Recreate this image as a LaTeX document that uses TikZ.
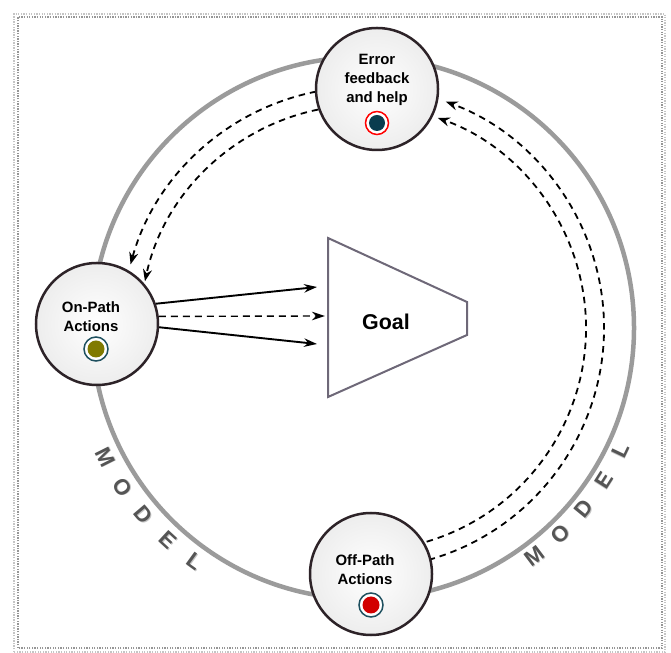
\documentclass[tikz,border=0pt]{standalone}
\usepackage{fontspec}
\setmainfont{Liberation Sans}
\usetikzlibrary{arrows.meta}
\definecolor{ringgray}{RGB}{155,155,155}
\definecolor{nodeborder}{RGB}{45,35,40}
\definecolor{tealdk}{RGB}{10,60,78}
\definecolor{tealring}{RGB}{30,80,95}
\definecolor{olivedot}{RGB}{128,122,0}
\definecolor{reddot}{RGB}{210,0,0}
\definecolor{goalline}{RGB}{110,104,120}
\definecolor{modelgray}{RGB}{85,85,85}
\definecolor{framegray}{RGB}{150,150,150}
\begin{document}
\begin{tikzpicture}[x=1bp,y=1bp,
  bubble/.style={circle, draw=nodeborder, line width=2.5bp, minimum size=122bp, inner sep=0pt,
                 shade, inner color=white, outer color=gray!14},
  lbl/.style={align=center, font=\fontsize{15}{19}\selectfont\bfseries, inner sep=0pt},
  dotring/.style={circle, fill=white, draw=#1, line width=1.5bp, minimum size=23bp, inner sep=0pt},
  dotfill/.style={circle, fill=#1, minimum size=16bp, inner sep=0pt},
  model/.style={font=\fontsize{22}{22}\selectfont\bfseries, text=modelgray, inner sep=0pt},
  modelshadow/.style={font=\fontsize{22}{22}\selectfont\bfseries, text=modelgray!35, inner sep=0pt},
  dasharrow/.style={line width=1.8bp, dash pattern=on 6.5bp off 5bp, -{Stealth[length=12bp,width=9bp]}},
  solidarrow/.style={line width=1.9bp, -{Stealth[length=13bp,width=8.5bp]}},
  dasharrowB/.style={line width=1.4bp, dash pattern=on 7bp off 5bp, -{Stealth[length=13bp,width=8.5bp]}}
]
\useasboundingbox (0,0) rectangle (671,653);
% frame
\draw[framegray!55, line width=1.3bp, dash pattern=on 1.3bp off 1.3bp] (14,1) rectangle (665,639);
\draw[framegray, line width=1.3bp, dash pattern=on 1.3bp off 1.3bp] (18,5) rectangle (662,636);

% big model circle
\coordinate (C) at (363,325);
\draw[ringgray, line width=4.5bp] (C) circle[radius=271bp];

% MODEL labels
\foreach \a [count=\i] in {206.6,213.5,220.4,227.3,234.2}{
  \node[modelshadow, rotate=\a+90] (mlefts\i) at ([shift={(\a:288bp)},xshift=0.8bp,yshift=-0.8bp]C)
    {\ifcase\i\or M\or O\or D\or E\or L\fi};
  \node[model, rotate=\a+90] (mleft\i) at ([shift={(\a:288bp)}]C)
    {\ifcase\i\or M\or O\or D\or E\or L\fi};
}
\foreach \a [count=\i] in {-53.1,-46.2,-39.3,-32.4,-25.5}{
  \node[modelshadow, rotate=\a+90] (mrights\i) at ([shift={(\a:285bp)},xshift=0.8bp,yshift=-0.8bp]C)
    {\ifcase\i\or M\or O\or D\or E\or L\fi};
  \node[model, rotate=\a+90] (mright\i) at ([shift={(\a:285bp)}]C)
    {\ifcase\i\or M\or O\or D\or E\or L\fi};
}

% dashed arcs
\path (C) ++(101.2:241bp) coordinate (lo0);
\path (C) ++(101.6:223bp) coordinate (li0);
\path (C) ++(-74.2:241bp) coordinate (ro0);
\path (C) ++(-73.4:223bp) coordinate (ri0);
\draw[dasharrow] (lo0) arc[start angle=101.2, end angle=164.7, radius=241bp];
\draw[dasharrow] (li0) arc[start angle=101.6, end angle=167.9, radius=223bp];
\draw[dasharrow] (ro0) arc[start angle=-74.2, end angle=69.9, radius=241bp];
\draw[dasharrow] (ri0) arc[start angle=-73.4, end angle=70.4, radius=223bp];

% goal
\coordinate (gA) at (328,415);
\coordinate (gB) at (467,351);
\coordinate (gC) at (467,318);
\coordinate (gD) at (328,256);
\draw[goalline, line width=2bp, line join=miter, fill=white] (gA) -- (gB) -- (gC) -- (gD) -- cycle;
\node[font=\fontsize{21.5}{24}\selectfont\bfseries, inner sep=0pt] (goaltxt) at (386,331) {Goal};
\coordinate (g1) at (317,366);
\coordinate (g2) at (325,337);
\coordinate (g3) at (317,309);

% nodes
\node[bubble] (err) at (377,564) {};
\node[bubble] (onp) at (97,329) {};
\node[bubble] (offp) at (371,79) {};

\node[lbl] (errtxt) at (377,573) {Error\\feedback\\and help};
\node[lbl] (onptxt) at (91,336.5) {On-Path\\Actions};
\node[lbl] (offptxt) at (365,83.5) {Off-Path\\Actions};

\node[dotring=red] (errring) at (377,530) {};
\node[dotfill=tealdk] (errdot) at (377,530) {};
\node[dotring=tealring, minimum size=24bp] (onpring) at (96,304) {};
\node[dotfill=olivedot, minimum size=17bp] (onpdot) at (96,304) {};
\node[dotring=tealring, minimum size=24bp] (offpring) at (371,48) {};
\node[dotfill=reddot, minimum size=17bp] (offpdot) at (371,48) {};

% arrows to goal
\draw[solidarrow] (onp.19) -- (g1);
\draw[dasharrowB] (onp.7) -- (g2);
\draw[solidarrow] (onp.-3) -- (g3);
\end{tikzpicture}
\end{document}
